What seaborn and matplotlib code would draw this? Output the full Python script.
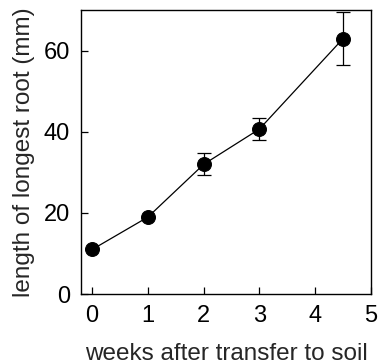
import matplotlib
matplotlib.use("Agg")
import matplotlib.pyplot as plt
import seaborn as sns
import pandas as pd

weeks = [0, 1, 2, 3, 4.5]
root_length = [11, 19, 32, 40.7, 63]
root_err = [0, 0, 2.7, 2.8, 6.6]
x_ticks = [0, 1, 2, 3, 4, 5]
y_ticks = [0, 20, 40, 60]

sns.set_style("ticks")
plt.rcParams["font.family"] = ["Liberation Sans", "DejaVu Sans"]

df = pd.DataFrame({"weeks": weeks, "length": root_length, "err": root_err})

fig = plt.figure(figsize=(3.84, 3.64), dpi=100)
ax = fig.add_axes([0.211, 0.192, 0.755, 0.780])

ax.errorbar(df["weeks"], df["length"], yerr=df["err"], fmt="none",
            ecolor="black", elinewidth=0.9, capsize=5, capthick=0.9, zorder=2)
sns.lineplot(data=df, x="weeks", y="length", ax=ax, color="black",
             linewidth=0.9, marker="o", markersize=10,
             markerfacecolor="black", markeredgecolor="black", zorder=3)

ax.set_xlim(-0.2, 5)
ax.set_ylim(0, 70)
ax.set_xticks(x_ticks)
ax.set_yticks(y_ticks)
ax.tick_params(direction="in", length=5, width=0.9, labelsize=17, pad=8,
               colors="black")
for s in ax.spines.values():
    s.set_visible(True)
    s.set_linewidth(1.0)
    s.set_color("black")

ax.set_xlabel("weeks after transfer to soil", fontsize=17.5, labelpad=11)
ax.set_ylabel("length of longest root (mm)", fontsize=17.5, labelpad=6)

fig.savefig("out.png", dpi=100)
